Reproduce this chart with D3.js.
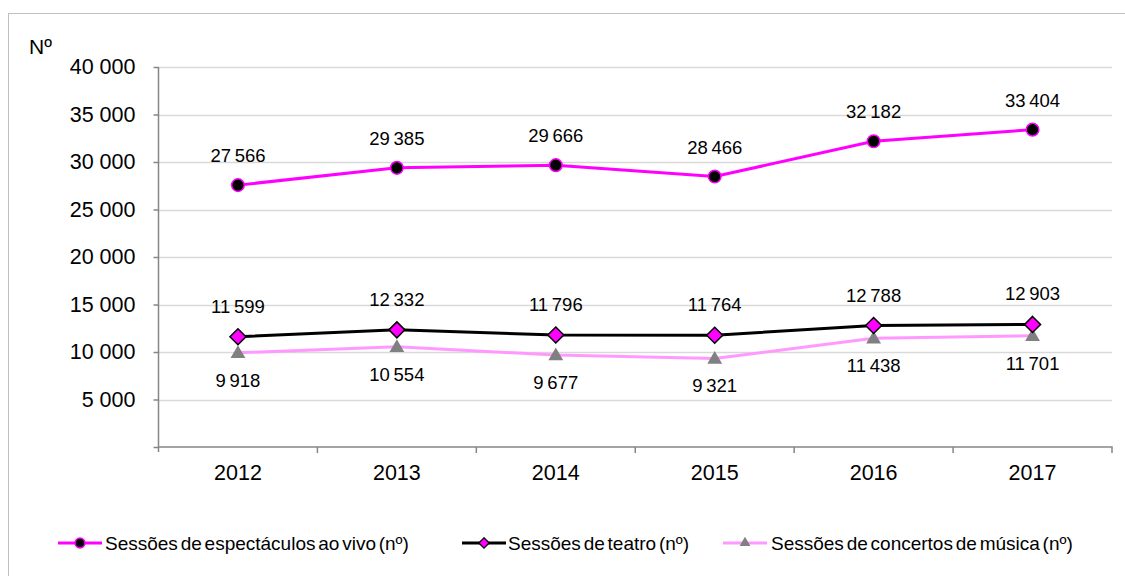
<!DOCTYPE html>
<html>
<head>
<meta charset="utf-8">
<script src="https://cdn.jsdelivr.net/npm/d3@7"></script>
<style>
  html, body { margin: 0; padding: 0; background: #fff; }
  svg { display: block; font-family: "Liberation Sans", Arial, sans-serif; }
</style>
</head>
<body>
<svg id="chart" width="1125" height="576"></svg>
<script>
// Data
const years = ["2012", "2013", "2014", "2015", "2016", "2017"];
const liveSessions = [27566, 29385, 29666, 28466, 32182, 33404];
const theatreSessions = [11599, 12332, 11796, 11764, 12788, 12903];
const musicSessions = [9918, 10554, 9677, 9321, 11438, 11701];
const yTicks = [0, 5000, 10000, 15000, 20000, 25000, 30000, 35000, 40000];
const seriesNames = [
  "Sessões de espectáculos ao vivo (nº)",
  "Sessões de teatro (nº)",
  "Sessões de concertos de música (nº)"
];

const fmt = v => {
  const s = String(v);
  return s.length > 3 ? s.slice(0, s.length - 3) + "\u2009" + s.slice(-3) : s;
};
const fmtTick = v => v === 0 ? "" : (String(v).length > 3 ? String(v).slice(0, -3) + " " + String(v).slice(-3) : String(v));

const svg = d3.select("#chart");

// Outer frame
svg.append("rect")
  .attr("x", 8.5).attr("y", 13.5)
  .attr("width", 1130).attr("height", 580)
  .attr("fill", "#fff").attr("stroke", "#bfbfbf").attr("stroke-width", 1);

const plot = { left: 158.5, right: 1112, top: 67, bottom: 447 };

const x = d3.scaleBand().domain(years).range([plot.left, plot.right]);
const y = d3.scaleLinear().domain([0, 40000]).range([plot.bottom, plot.top]);
const cx = d => x(d) + x.bandwidth() / 2;

// Gridlines
svg.append("g")
  .selectAll("line")
  .data(yTicks.filter(t => t > 0))
  .join("line")
  .attr("x1", plot.left).attr("x2", plot.right)
  .attr("y1", d => Math.round(y(d)) + 0.5).attr("y2", d => Math.round(y(d)) + 0.5)
  .attr("stroke", "#d9d9d9").attr("stroke-width", 1.5);

// Y axis
const yAxis = svg.append("g")
  .attr("transform", `translate(${plot.left},0)`)
  .call(d3.axisLeft(y).tickValues(yTicks).tickFormat(fmtTick).tickSize(5).tickPadding(18));
yAxis.select(".domain").attr("stroke", "#868686").attr("stroke-width", 1.5)
  .attr("d", `M0,${plot.top}V${plot.bottom + 5}`);
yAxis.selectAll(".tick line").attr("stroke", "#868686").attr("stroke-width", 1.5);
yAxis.selectAll(".tick text").attr("font-size", 21.5).attr("fill", "#000")
  .attr("font-family", "'Liberation Sans', Arial, sans-serif");

// X axis
const xAxis = svg.append("g")
  .attr("transform", `translate(0,${plot.bottom})`)
  .call(d3.axisBottom(x).tickSize(0).tickPadding(18));
xAxis.select(".domain").attr("stroke", "#868686").attr("stroke-width", 1.5)
  .attr("d", `M${plot.left},0H${plot.right}V6`);
xAxis.selectAll(".tick text").attr("font-size", 21.5).attr("fill", "#000")
  .attr("font-family", "'Liberation Sans', Arial, sans-serif");
// category boundary ticks
svg.append("g")
  .selectAll("line")
  .data(years.slice(1))
  .join("line")
  .attr("x1", d => x(d)).attr("x2", d => x(d))
  .attr("y1", plot.bottom).attr("y2", plot.bottom + 6)
  .attr("stroke", "#868686").attr("stroke-width", 1.5);

// Axis title
svg.append("text").attr("x", 29).attr("y", 54)
  .attr("font-size", 21).text("Nº");

const line = d3.line().x((d, i) => cx(years[i])).y(d => y(d));

// Music concerts
svg.append("path").datum(musicSessions)
  .attr("d", line).attr("fill", "none")
  .attr("stroke", "#ff99ff").attr("stroke-width", 3);

// Theatre
svg.append("path").datum(theatreSessions)
  .attr("d", line).attr("fill", "none")
  .attr("stroke", "#000").attr("stroke-width", 3);

// Live shows
svg.append("path").datum(liveSessions)
  .attr("d", line).attr("fill", "none")
  .attr("stroke", "#ff00ff").attr("stroke-width", 3);

const triangle = d3.symbol().type(d3.symbolTriangle).size(95);
const diamond = "M0,-8L8,0L0,8L-8,0Z";

// Markers
svg.append("g").selectAll("path")
  .data(musicSessions).join("path")
  .attr("transform", (d, i) => `translate(${cx(years[i])},${y(d) + 1})`)
  .attr("d", triangle).attr("fill", "#808080");

svg.append("g").selectAll("path")
  .data(theatreSessions).join("path")
  .attr("transform", (d, i) => `translate(${cx(years[i])},${y(d)})`)
  .attr("d", diamond).attr("fill", "#ff00ff")
  .attr("stroke", "#000").attr("stroke-width", 1.5);

svg.append("g").selectAll("circle")
  .data(liveSessions).join("circle")
  .attr("cx", (d, i) => cx(years[i])).attr("cy", d => y(d))
  .attr("r", 6.3).attr("fill", "#000")
  .attr("stroke", "#ff00ff").attr("stroke-width", 1.5);

// Data labels
const labels = (data, dy) => svg.append("g").selectAll("text")
  .data(data).join("text")
  .attr("x", (d, i) => cx(years[i])).attr("y", d => y(d) + dy)
  .attr("text-anchor", "middle").attr("font-size", 18.5)
  .attr("fill", "#000").text(fmt);

labels(liveSessions, -23);
labels(theatreSessions, -24);
labels(musicSessions, 34);

// Legend
const legend = svg.append("g").attr("transform", "translate(0,543)");
const items = [
  { x0: 58, x1: 102, tx: 105, color: "#ff00ff", marker: "circle" },
  { x0: 462, x1: 506, tx: 508, color: "#000", marker: "diamond" },
  { x0: 723, x1: 767, tx: 771, color: "#ff99ff", marker: "triangle" }
];
items.forEach((it, i) => {
  const g = legend.append("g");
  g.append("line").attr("x1", it.x0).attr("x2", it.x1).attr("y1", 0).attr("y2", 0)
    .attr("stroke", it.color).attr("stroke-width", 3);
  const mx = (it.x0 + it.x1) / 2;
  if (it.marker === "circle") {
    g.append("circle").attr("cx", mx).attr("cy", 0).attr("r", 5)
      .attr("fill", "#000").attr("stroke", "#ff00ff").attr("stroke-width", 1.5);
  } else if (it.marker === "diamond") {
    g.append("path").attr("transform", `translate(${mx},0) scale(0.65)`)
      .attr("d", diamond).attr("fill", "#ff00ff").attr("stroke", "#000").attr("stroke-width", 2);
  } else {
    g.append("path").attr("transform", `translate(${mx},0)`)
      .attr("d", d3.symbol().type(d3.symbolTriangle).size(50)).attr("fill", "#808080");
  }
  g.append("text").attr("x", it.tx).attr("y", 7)
    .attr("font-size", 19).attr("word-spacing", -2.5)
    .attr("fill", "#000").text(seriesNames[i]);
});
</script>
</body>
</html>
